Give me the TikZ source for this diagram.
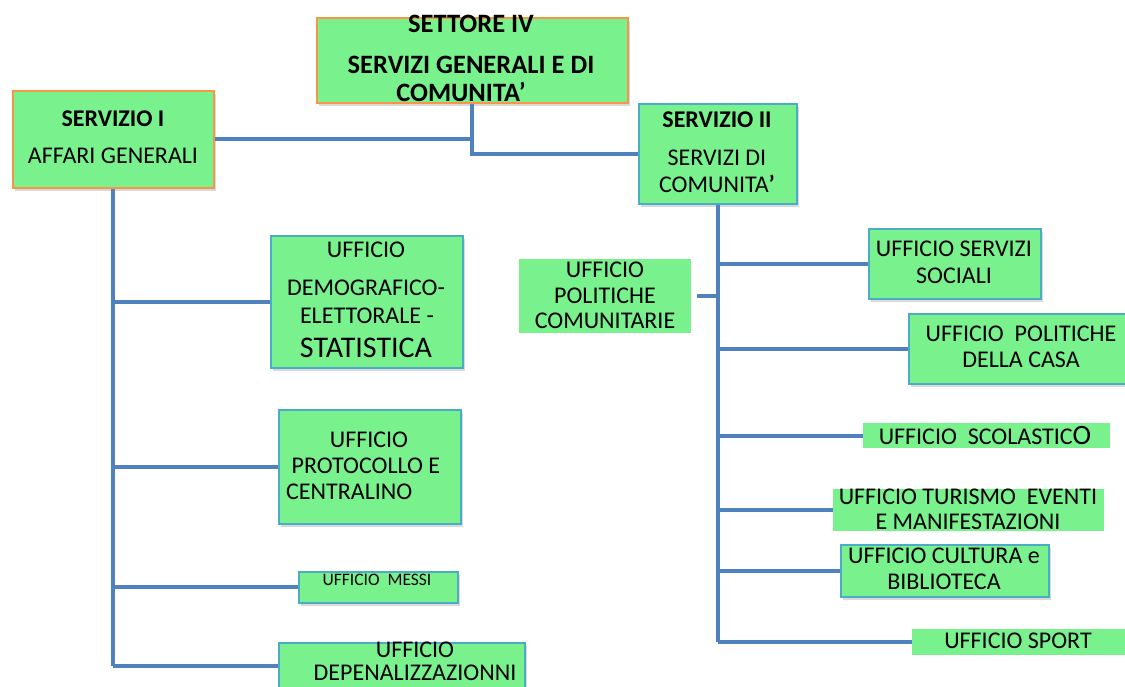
\documentclass[tikz,border=0pt]{standalone}
\usepackage{fontspec}
\setmainfont{Carlito}
\usetikzlibrary{shadows}
\definecolor{boxgreen}{HTML}{79F28E}
\definecolor{edgeorange}{HTML}{F79646}
\definecolor{edgeblue}{HTML}{4BACC6}
\definecolor{linkblue}{HTML}{4F81BD}
\tikzset{
  boxbase/.style={fill=boxgreen, minimum width=#1, inner sep=0pt, anchor=north west},
  obox/.style={boxbase=#1, draw=edgeorange, line width=1.5pt, drop shadow={shadow xshift=2pt, shadow yshift=-3pt, opacity=0.3}},
  bbox/.style={boxbase=#1, draw=edgeblue, line width=1.5pt, drop shadow={shadow xshift=2pt, shadow yshift=-3pt, opacity=0.3}},
  pbox/.style={boxbase=#1},
  txt/.style={inner sep=0pt, font=\fontsize{24}{28}\selectfont},
  btxt/.style={inner sep=0pt, font=\fontsize{24}{28}\selectfont\bfseries},
  bigbtxt/.style={inner sep=0pt, font=\fontsize{26.5}{30}\selectfont\bfseries},
  stxt/.style={inner sep=0pt, font=\fontsize{17.5}{20}\selectfont},
  ltxt/.style={inner sep=0pt, font=\fontsize{30}{34}\selectfont},
  conn/.style={draw=linkblue, line width=4pt}
}
\begin{document}
\begin{tikzpicture}[x=1pt,y=-1pt]
\useasboundingbox (0,0) rectangle (1125,686);
% boxes
\node[obox=311pt, minimum height=85pt] (top) at (316,17) {};
\node[obox=201pt, minimum height=97pt] (s1) at (12,90) {};
\node[bbox=158pt, minimum height=100pt] (s2) at (638,103) {};
\node[bbox=192pt, minimum height=132pt] (demo) at (270,235) {};
\node[bbox=182pt, minimum height=114pt] (prot) at (278,409) {};
\node[bbox=159pt, minimum height=31pt] (messi) at (298,571) {};
\node[bbox=246pt, minimum height=46pt] (dep) at (278,642) {};
\node[pbox=172pt, minimum height=74pt] (pc) at (519,259) {};
\node[bbox=172pt, minimum height=70pt] (soc) at (868,228) {};
\node[bbox=217pt, minimum height=70pt] (casa) at (908,313) {};
\node[pbox=247pt, minimum height=25pt] (scol) at (863,423) {};
\node[pbox=271pt, minimum height=42pt] (tur) at (833,489) {};
\node[bbox=208pt, minimum height=52pt] (cult) at (840,544) {};
\node[pbox=213pt, minimum height=26pt] (sport) at (912,629) {};
% connectors
\draw[conn] (s1.east) -- (s1.east -| top.south);
\draw[conn] (top.south) -- (top.south |- s2.west) -- (s2.west);
\draw[conn] (s1.south) -- (s1.south |- dep.west);
\foreach \b in {demo,prot,messi,dep} \draw[conn] (s1.south |- \b.west) -- (\b.west);
\draw[conn] (s2.south) -- (s2.south |- sport.west);
\foreach \b in {soc,casa,scol,tur,cult,sport} \draw[conn] (s2.south |- \b.west) -- (\b.west);
\coordinate (pcend) at ([xshift=6pt]pc.east);
\draw[conn] (pcend) -- (pcend -| s2.south);
% texts
\node[bigbtxt] (t1) at (471,24) {SETTORE IV};
\node[bigbtxt] (t2) at (471,65) {SERVIZI GENERALI E DI};
\node[bigbtxt] (t3) at (461,92) {COMUNITA’};
\node[btxt] (t4) at (113,119) {SERVIZIO I};
\node[txt] (t5) at (113,156) {AFFARI GENERALI};
\node[btxt] (t6) at (717,120) {SERVIZIO II};
\node[txt] (t7) at (717,158) {SERVIZI DI};
\node[txt] (t8) at (717,184) {COMUNITA\textbf{’}};
\node[txt] (t9) at (366,250) {UFFICIO};
\node[txt] (t10) at (366,288) {DEMOGRAFICO-};
\node[txt] (t11) at (367,316) {ELETTORALE -};
\node[ltxt] (t12) at (366,348) {STATISTICA};
\node[txt] (t13) at (369,440) {UFFICIO};
\node[txt] (t14) at (366,466) {PROTOCOLLO E};
\node[txt, anchor=west] (t15) at (286,492) {CENTRALINO};
\node[stxt] (t16) at (377,580) {UFFICIO\ \ MESSI};
\node[txt] (t17) at (415,650) {UFFICIO};
\node[txt] (t18) at (415,673) {DEPENALIZZAZIONNI};
\node[txt] (t19) at (605,270) {UFFICIO};
\node[txt] (t20) at (605,296) {POLITICHE};
\node[txt] (t21) at (605,321) {COMUNITARIE};
\node[txt] (t22) at (954,249) {UFFICIO SERVIZI};
\node[txt] (t23) at (954,276) {SOCIALI};
\node[txt] (t24) at (1021,334) {UFFICIO\ \ POLITICHE};
\node[txt] (t25) at (1021,360) {DELLA CASA};
\node[txt] (t26) at (985,436) {UFFICIO\ \ SCOLASTIC{\fontsize{28}{28}\selectfont O}};
\node[txt] (t27) at (968,497) {UFFICIO TURISMO\ \ EVENTI};
\node[txt] (t28) at (968,522) {E MANIFESTAZIONI};
\node[txt] (t29) at (944,556) {UFFICIO CULTURA e};
\node[txt] (t30) at (944,582) {BIBLIOTECA};
\node[txt] (t31) at (1018,641) {UFFICIO SPORT};
\end{tikzpicture}
\end{document}
